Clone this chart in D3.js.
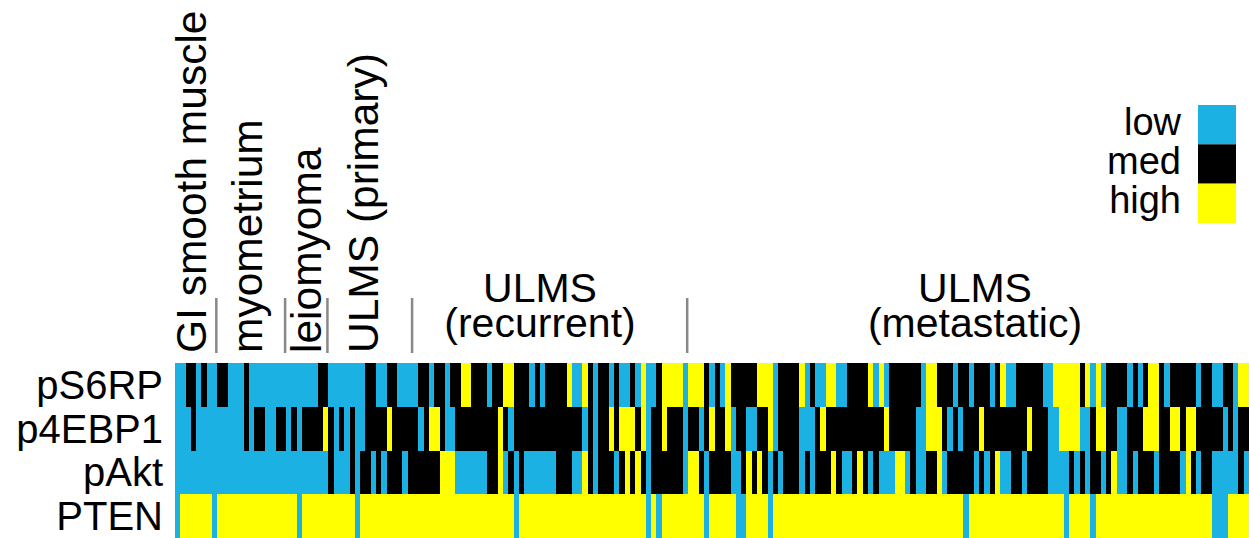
<!DOCTYPE html>
<html>
<head>
<meta charset="utf-8">
<script src="https://cdn.jsdelivr.net/npm/d3@7"></script>
<style>
  html, body { margin: 0; padding: 0; background: #fff; }
  svg { display: block; font-family: "Liberation Sans", Arial, sans-serif; }
</style>
</head>
<body>
<svg id="chart" width="1249" height="538"></svg>
<script>
// Marker rows (top to bottom)
const markers = ["pS6RP", "p4EBP1", "pAkt", "PTEN"];

// Tissue groups, left to right, and number of samples in each
const groups = ["GI smooth muscle", "myometrium", "leiomyoma", "ULMS (primary)", "ULMS (recurrent)", "ULMS (metastatic)"];
const groupSizes = [8, 13, 8, 16, 52, 106];

// Expression level per sample: L = low, M = med, H = high
const pS6RP = (
  "LLMMLMLLMM" + "LLLMLLLLLL" + "LLLLLLLMML" + "LLLLLLMMLL" + "MMLLLLMMLM" +
  "MLMMHHMMML" + "MMHHMMMLML" + "MMMMHLLHML" + "MMLMLLMLHL" + "LMHHHHLHHH" +
  "MLMLHMMMMM" + "HHHLMMMMHL" + "MLLHHLLMMM" + "MHLHLMMMMM" + "MLHHMMMLMM" +
  "LMMMLMHLLM" + "MMMMLLHHHH" + "HMHLHLMMMM" + "LMLMHHMLMM" + "MMMLMMLLMM" + "LHH"
).split("");

const p4EBP1 = (
  "LLLMLLLLLL" + "LLLMLMMLLM" + "MLMLMMMMHM" + "LMLMLLMMMM" + "HMMMMMLMHH" +
  "MLLMMMMMMM" + "MHMLMMMMMM" + "MMMMMMMLML" + "MMHMHHHMHL" + "MMHMMMLMML" +
  "MHMMHLMMLL" + "MMHLMMMMLL" + "LMHMMMMMMM" + "MMMMHMMMMM" + "LLHHHMLMLM" +
  "MMHMMMMMMM" + "MHMMMLLHHH" + "HLLMHHMMLL" + "MMMHHHMMHH" + "MHHMMMMMLM" + "LMM"
).split("");

const pAkt = (
  "LLLLLLLLLL" + "LLLLLLLLLL" + "LLLLLLLLLM" + "LLLMLMMLML" + "MMMLMMMMMM" +
  "HHHLLLLLLM" + "MHLMLMLLLL" + "LLMMMLLHML" + "MMMLMHMHML" + "MMMMMMLHHM" +
  "LMMMMLLMHM" + "HMLMLMMMLM" + "LMMMHMLLMH" + "MLMLLLHHLM" + "LLMMHLMMMM" +
  "MLMLMHLLMM" + "LMMMMLLLLM" + "LMLMMLMHLL" + "MLMMMLMMMM" + "LHMLMMLLLL" + "LML"
).split("");

const PTEN = (
  "LHHHHHHLHH" + "HHHHHHHHHH" + "HHHLHHHHHH" + "HHHHLHHHHH" + "HHHHHHHHHH" +
  "HHHHHHHHHH" + "HHHHLHHHHH" + "HHHHHHHHHH" + "HHHHHHHHHL" + "HLHHHHHHHH" +
  "LHHHHHLLHH" + "HHLHHHHHHH" + "HHHHHHHHHH" + "HHHHHHHHHH" + "HHHHHHHHHL" +
  "HHHHHHHHHH" + "HHHHHHHHLH" + "HHHLHHHHHH" + "HHHHHHHHHH" + "HHHHHHLLLH" + "HHH"
).split("");

const levelCodes = ["L", "M", "H"];
const levelNames = ["low", "med", "high"];

const rows = [pS6RP, p4EBP1, pAkt, PTEN];
const nSamples = pS6RP.length;

const svg = d3.select("#chart");

const color = d3.scaleOrdinal()
  .domain(levelCodes)
  .range(["#1bb1e3", "#000000", "#ffff00"]);

const x = d3.scaleBand()
  .domain(d3.range(nSamples))
  .range([175, 1249])
  .paddingInner(0).paddingOuter(0);

const y = d3.scaleBand()
  .domain(markers)
  .range([363, 538])
  .padding(0);

// Heatmap cells
const cells = [];
rows.forEach((vals, r) => {
  vals.forEach((v, i) => cells.push({ marker: markers[r], i, v }));
});

svg.append("g")
  .attr("shape-rendering", "crispEdges")
  .selectAll("rect")
  .data(cells)
  .join("rect")
  .attr("x", d => x(d.i))
  .attr("y", d => y(d.marker))
  .attr("width", x.bandwidth() + 0.6)
  .attr("height", y.bandwidth() + 0.6)
  .attr("fill", d => color(d.v));

// Row labels
svg.append("g")
  .selectAll("text")
  .data(markers)
  .join("text")
  .attr("x", 163)
  .attr("y", d => y(d) + y.bandwidth() / 2 + 14)
  .attr("text-anchor", "end")
  .attr("font-size", 40)
  .attr("fill", "#000")
  .text(d => d);

// Group boundaries
const starts = [];
let acc = 0;
groupSizes.forEach(n => { starts.push(acc); acc += n; });

svg.append("g")
  .selectAll("line")
  .data(starts.slice(1))
  .join("line")
  .attr("x1", d => x(d) - 1)
  .attr("x2", d => x(d) - 1)
  .attr("y1", 298)
  .attr("y2", 353)
  .attr("stroke", "#888")
  .attr("stroke-width", 2.5);

// Vertical group labels for the narrow groups
const verticalX = [206, 262, 321, 378];
svg.append("g")
  .selectAll("text")
  .data(groups.slice(0, 4))
  .join("text")
  .attr("transform", (d, k) => `translate(${verticalX[k]},353) rotate(-90)`)
  .attr("font-size", 42.5)
  .attr("fill", "#000")
  .text(d => d);

// Two-line labels for the wide groups
const wide = [
  { lines: ["ULMS", "(recurrent)"], cx: 540 },
  { lines: ["ULMS", "(metastatic)"], cx: 975 }
];
const wg = svg.append("g");
wide.forEach(w => {
  w.lines.forEach((t, j) => {
    wg.append("text")
      .attr("x", w.cx)
      .attr("y", j === 0 ? 302 : 337)
      .attr("text-anchor", "middle")
      .attr("font-size", 41)
      .attr("fill", "#000")
      .text(t);
  });
});

// Legend
const legend = svg.append("g");
const ly = d3.scaleBand().domain(levelCodes).range([105, 223]).padding(0);
legend.selectAll("rect")
  .data(levelCodes)
  .join("rect")
  .attr("x", 1198)
  .attr("y", d => ly(d))
  .attr("width", 38)
  .attr("height", ly.bandwidth())
  .attr("fill", d => color(d));
legend.selectAll("text")
  .data(levelCodes)
  .join("text")
  .attr("x", 1181)
  .attr("y", d => ly(d) + ly.bandwidth() / 2 + 10)
  .attr("text-anchor", "end")
  .attr("font-size", 38)
  .attr("fill", "#000")
  .text((d, k) => levelNames[k]);
</script>
</body>
</html>
